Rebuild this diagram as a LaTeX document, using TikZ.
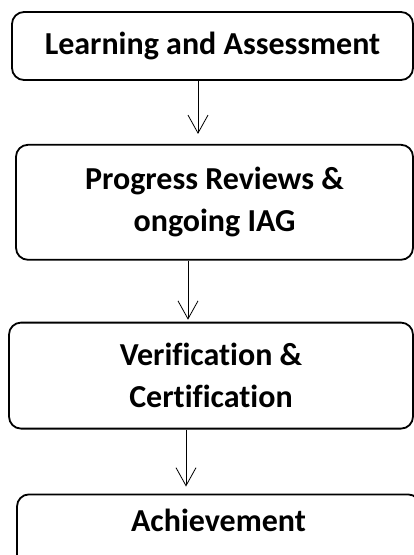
\documentclass[tikz,border=0pt]{standalone}
\usepackage{fontspec}
\setmainfont[Ligatures=NoCommon]{Carlito}
\usetikzlibrary{positioning}
\usetikzlibrary{arrows.meta}

\begin{document}
\begin{tikzpicture}[x=1pt,y=1pt,
        stage/.style={draw,line width=1.8pt,rounded corners=12pt,align=center,
            font=\bfseries\fontsize{32}{42}\selectfont,inner sep=0pt},
        flow/.style={line width=0.8pt,-{Straight Barb[length=18pt,width=20pt,line width=0.8pt]}},
        node distance=62pt]
        \useasboundingbox (0,0) rectangle (414,-555);
        % the four stages, top to bottom
        \node [stage,minimum width=401pt,minimum height=68pt] (learn) at (212.5,-46) {Learning and Assessment};
        \node [stage,minimum width=397pt,minimum height=115pt,below=63pt of learn,xshift=2pt] (review) {Progress Reviews \&\\ongoing IAG};
        \node [stage,minimum width=404pt,minimum height=106pt,below=61pt of review,xshift=-3.5pt] (verify) {Verification \&\\Certification};
        \node [stage,minimum width=403pt,minimum height=80pt,text depth=28pt,below=64pt of verify,xshift=7.5pt] (achieve) {Achievement};
        % connectors, a little left of the centre line
        \draw [flow] ([xshift=-14.5pt]learn.south) -- ([xshift=-16.5pt,yshift=10pt]review.north);
        \draw [flow] ([xshift=-26.5pt]review.south) -- ([xshift=-23pt,yshift=2pt]verify.north);
        \draw [flow] ([xshift=-25pt]verify.south) -- ([xshift=-32.5pt,yshift=7pt]achieve.north);
    \end{tikzpicture}
\end{document}
